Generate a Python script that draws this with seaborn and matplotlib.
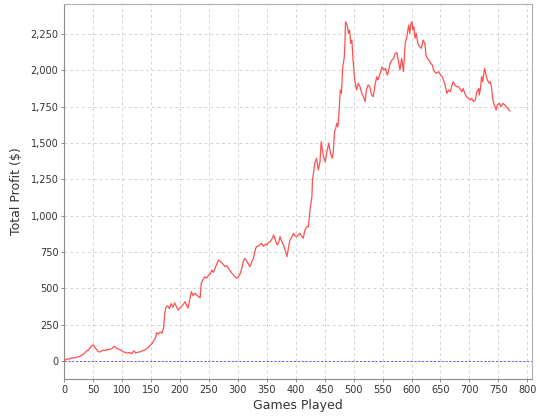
"""Cumulative profit per game, recreated in seaborn."""

import matplotlib

matplotlib.use("Agg")
import matplotlib.ticker as mticker
import pandas as pd
import seaborn as sns
from matplotlib import pyplot as plt


# games at which the curve was read, and the running profit there
games = [
    0, 3, 6, 9, 12, 15, 18, 21, 24, 27, 30, 33, 36, 39, 42, 45, 48, 51, 53, 56,
    59, 62, 65, 68, 71, 74, 77, 80, 83, 86, 89, 92, 95, 98, 101, 105, 109, 113, 117, 121,
    124, 127, 131, 135, 139, 143, 147, 152, 155, 158, 160, 163, 166, 169, 172, 174, 176, 179, 182, 185,
    188, 191, 194, 197, 200, 203, 206, 209, 212, 214, 217, 220, 223, 226, 229, 232, 235, 237, 240, 243,
    246, 250, 253, 255, 258, 261, 264, 267, 270, 273, 276, 278, 281, 284, 287, 290, 293, 295, 298, 301,
    304, 307, 310, 312, 315, 318, 321, 324, 327, 330, 332, 335, 338, 341, 344, 348, 350, 353, 356, 359,
    362, 365, 368, 371, 373, 376, 379, 382, 385, 388, 390, 393, 396, 399, 402, 405, 407, 410, 413, 416,
    419, 422, 425, 428, 429, 431, 433, 436, 439, 442, 444, 448, 451, 454, 457, 460, 463, 465, 467, 469,
    471, 473, 475, 477, 479, 481, 484, 485, 486, 489, 491, 493, 495, 497, 499, 502, 505, 508, 511, 514,
    517, 520, 522, 525, 528, 531, 534, 537, 540, 542, 546, 549, 552, 555, 558, 560, 563, 566, 569, 572,
    575, 577, 580, 583, 586, 589, 592, 595, 597, 599, 601, 602, 604, 606, 608, 611, 614, 617, 620, 623,
    625, 627, 630, 633, 636, 638, 642, 647, 650, 653, 656, 658, 661, 664, 667, 670, 672, 675, 678, 681,
    684, 687, 689, 692, 695, 698, 701, 704, 707, 710, 713, 716, 717, 719, 721, 723, 726, 728, 731, 734,
    736, 738, 740, 742, 746, 748, 752, 754, 758, 761, 763, 765, 768, 770,
]
profit = [
    0, 10, 15, 12, 20, 22, 20, 25, 28, 30, 40, 45, 55, 70, 75, 90, 105, 110, 95, 80,
    65, 62, 70, 75, 72, 80, 78, 82, 85, 100, 95, 85, 80, 75, 65, 60, 55, 58, 50, 70,
    55, 60, 62, 70, 75, 85, 100, 120, 140, 160, 195, 185, 200, 190, 230, 330, 370, 380, 360, 395,
    370, 400, 375, 350, 365, 375, 390, 408, 380, 364, 420, 477, 450, 466, 455, 443, 434, 535, 560, 580,
    570, 592, 600, 626, 610, 640, 670, 695, 685, 672, 660, 649, 655, 638, 620, 603, 590, 580, 570, 580,
    600, 638, 690, 707, 690, 670, 649, 680, 707, 760, 787, 790, 800, 810, 790, 805, 798, 815, 821, 840,
    867, 830, 798, 820, 856, 820, 798, 760, 718, 790, 833, 850, 878, 860, 856, 870, 879, 860, 844, 901,
    924, 924, 1051, 1131, 1246, 1300, 1361, 1395, 1315, 1372, 1509, 1406, 1372, 1441, 1498, 1430, 1395, 1441, 1578, 1600,
    1636, 1613, 1727, 1865, 1842, 2014, 2094, 2186, 2335, 2312, 2255, 2278, 2186, 2209, 2071, 1934, 1865, 1911, 1888, 1842,
    1819, 1785, 1865, 1900, 1888, 1831, 1819, 1900, 1957, 1934, 1980, 2025, 2002, 2014, 1968, 1991, 2048, 2071, 2083, 2117,
    2122, 2071, 2003, 2083, 1991, 2186, 2232, 2312, 2255, 2324, 2335, 2278, 2301, 2221, 2255, 2186, 2163, 2152, 2209, 2186,
    2106, 2083, 2071, 2048, 2037, 2003, 1980, 1991, 1968, 1957, 1922, 1900, 1842, 1865, 1853, 1900, 1922, 1899, 1888, 1888,
    1870, 1853, 1876, 1842, 1819, 1808, 1796, 1808, 1785, 1796, 1853, 1876, 1830, 1876, 1957, 1922, 2014, 1980, 1934, 1911,
    1922, 1888, 1808, 1773, 1727, 1762, 1773, 1750, 1773, 1762, 1750, 1746, 1727, 1720,
]

x_ticks = list(range(0, 801, 50))
y_ticks = list(range(0, 2251, 250))

GRID = "#D4D4D4"
FRAME = "#8C8C8C"
LINE = "#FF5050"


sns.set_theme(style="white")
plt.rcParams["font.family"] = ["DejaVu Sans"]

df = pd.DataFrame({"games": games, "profit": profit})

fig = plt.figure(figsize=(5.4, 4.2), dpi=100)
ax = fig.add_axes([64 / 540, 1 - 379 / 420, 468 / 540, 375 / 420])

ax.axhline(0, color="#5A5AE0", linewidth=0.7, linestyle=(0, (2, 2)), zorder=1)
sns.lineplot(data=df, x="games", y="profit", ax=ax, color=LINE, linewidth=0.9, zorder=3)

ax.set_xlim(0, 808)
ax.set_ylim(-124, 2457)
ax.set_xticks(x_ticks)
ax.set_yticks(y_ticks)
ax.yaxis.set_major_formatter(mticker.StrMethodFormatter("{x:,.0f}"))

ax.grid(True, color=GRID, linestyle=(0, (3, 3)), linewidth=0.7)
ax.set_axisbelow(True)
for side in ax.spines.values():
    side.set_color("#B0B0B0")
    side.set_linewidth(0.8)
ax.spines["left"].set_color(FRAME)
ax.spines["bottom"].set_color(FRAME)

ax.tick_params(axis="both", labelsize=7, colors="#777777", length=2, width=0.6,
               direction="out", bottom=True, left=True, pad=2)
ax.tick_params(axis="both", labelcolor="#333333")
ax.set_xlabel("Games Played", fontsize=9, color="#333333", labelpad=3)
ax.set_ylabel("Total Profit ($)", fontsize=9, color="#333333", labelpad=5)

fig.savefig("out.png", dpi=100, facecolor="white")
